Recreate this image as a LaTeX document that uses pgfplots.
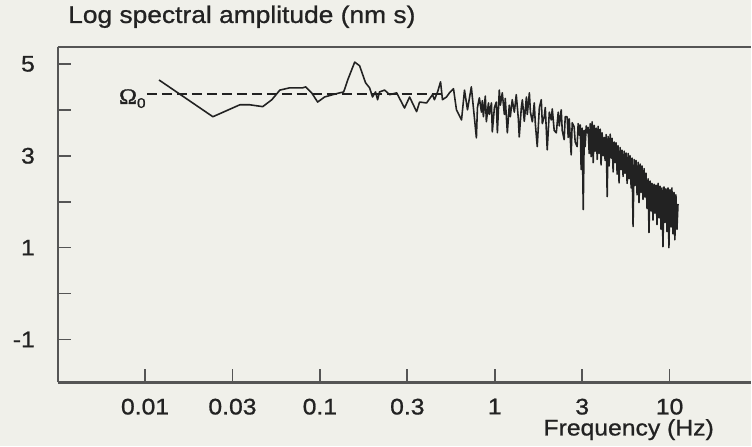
\documentclass[border=0pt]{standalone}
\usepackage{pgfplots}
\pgfplotsset{compat=1.18}
\usepackage{fontspec}
\setmainfont{Liberation Sans}[FakeStretch=1.1, FakeBold=0.9]
\newfontfamily\omegafont{Liberation Serif}[FakeStretch=1.1, FakeBold=1.5]
\usetikzlibrary{backgrounds}
\definecolor{bg}{HTML}{F0F0EA}
\definecolor{ink}{HTML}{222222}
\definecolor{axgray}{HTML}{555555}

\begin{document}
\begin{tikzpicture}
\begin{axis}[
  name=ax, scale only axis, width=416.6pt, height=201.6pt,
  xmin=-2.5, xmax=1.465, ymin=-1.935, ymax=5.37,
  axis x line=box, axis y line=left,
  axis line style={-, axgray, line width=1.3pt},
  every outer x axis line/.append style={-},
  every outer y axis line/.append style={-},
  xtick={-2,-1.5,-1,-0.5,0,0.5,1},
  xticklabels={0.01,0.03,0.1,0.3,1,3,10},
  ytick={-1,0,1,2,3,4,5},
  yticklabels={-1,,1,,3,,5},
  xtick pos=left, ytick pos=left,
  tick align=inside, major tick length=7.8pt,
  tick style={axgray, line width=1pt},
  tick label style={font=\fontsize{13.5}{16}\selectfont, text=ink, inner sep=0pt},
  xticklabel style={anchor=north, yshift=-9.6pt},
  yticklabel style={anchor=east, xshift=-13.5pt},
  title={Log spectral amplitude (nm s)},
  title style={at={(axis description cs:0.0148,1.0417)}, anchor=base west,
    inner sep=0pt, font=\fontsize{14.4}{17}\selectfont, text=ink},
  xlabel={Frequency (Hz)},
  xlabel style={at={(axis description cs:0.7004,-0.158)}, anchor=base west,
    inner sep=0pt, font=\fontsize{13.5}{16}\selectfont, text=ink},
]
% reference level Omega_0
\addplot[ink, line width=1.4pt, dash pattern=on 6pt off 3pt] coordinates {(-1.989,4.35) (-0.30,4.35)};
\node[anchor=base east, inner sep=0pt, text=ink] at (axis cs:-1.995,4.13)
  {\omegafont\fontsize{13.2}{15}\selectfont Ω\raisebox{-2.4pt}{\fontsize{8.4}{10}\selectfont\rmfamily 0}};

% spectrum, x = log10 of frequency in Hz
\addplot[ink, line width=0.95pt, line join=round] coordinates {
(-1.920,4.65) (-1.612,3.85) (-1.458,4.11) (-1.401,4.11) (-1.327,4.07) (-1.275,4.22)
(-1.229,4.43) (-1.172,4.48) (-1.098,4.48) (-1.081,4.50) (-1.047,4.37) (-1.013,4.17)
(-0.973,4.28) (-0.927,4.33) (-0.887,4.37) (-0.864,4.39) (-0.841,4.65) (-0.801,5.04)
(-0.773,4.96) (-0.739,4.59) (-0.716,4.48) (-0.699,4.28) (-0.682,4.39) (-0.670,4.22)
(-0.659,4.39) (-0.630,4.43) (-0.601,4.33) (-0.561,4.37) (-0.516,4.04) (-0.487,4.28)
(-0.447,3.96) (-0.430,4.17) (-0.390,4.15) (-0.356,4.33) (-0.345,4.22) (-0.327,4.39)
(-0.310,4.61) (-0.299,4.22) (-0.276,4.28) (-0.259,4.37) (-0.236,4.46) (-0.219,4.00)
(-0.190,3.78) (-0.173,4.43) (-0.156,4.00) (-0.134,4.50) (-0.105,3.39) (-0.099,4.05)
(-0.088,4.26) (-0.076,3.95) (-0.071,4.20) (-0.065,3.85) (-0.054,4.30) (-0.048,3.74)
(-0.036,4.15) (-0.031,3.90) (-0.019,4.15) (-0.014,3.52) (-0.002,4.05) (0.009,4.17)
(0.015,3.50) (0.026,4.43) (0.032,4.10) (0.043,4.37) (0.055,3.90) (0.060,4.25)
(0.072,3.50) (0.083,4.10) (0.089,3.85) (0.100,4.22) (0.112,3.95) (0.123,4.33)
(0.135,3.80) (0.140,3.41) (0.152,4.05) (0.158,4.22) (0.169,3.75) (0.181,4.28)
(0.186,3.90) (0.198,4.37) (0.204,3.95) (0.215,3.74) (0.226,4.15) (0.232,3.70)
(0.243,3.20) (0.255,4.05) (0.266,4.22) (0.272,3.70) (0.283,3.85) (0.289,4.05)
(0.300,3.13) (0.312,3.95) (0.323,3.78) (0.329,4.02) (0.340,3.55) (0.352,3.50)
(0.363,3.95) (0.369,3.65) (0.380,4.00) (0.386,3.55) (0.397,3.35) (0.403,3.85)
(0.414,3.85) (0.420,3.40) (0.426,3.80) (0.437,3.02) (0.443,3.72) (0.454,3.63)
(0.460,3.30) (0.471,3.20) (0.477,3.70) (0.483,3.45) (0.489,3.67) (0.494,2.70)
(0.500,3.60) (0.506,1.83) (0.512,3.55) (0.517,3.20) (0.523,3.65) (0.529,3.50)
(0.534,3.62) (0.540,3.05) (0.546,3.70) (0.551,2.98) (0.557,3.74) (0.563,2.85)
(0.569,3.66) (0.574,3.10) (0.580,3.60) (0.586,2.92) (0.591,3.64) (0.597,3.05)
(0.603,3.58) (0.608,2.80) (0.614,3.50) (0.620,3.00) (0.626,3.40) (0.631,2.90)
(0.637,3.46) (0.643,2.11) (0.648,3.42) (0.654,2.78) (0.660,3.47) (0.666,2.95)
(0.671,3.38) (0.677,2.65) (0.683,3.30) (0.688,2.85) (0.694,3.28) (0.700,2.60)
(0.705,3.22) (0.711,2.41) (0.717,3.18) (0.723,2.70) (0.728,3.12) (0.734,2.55)
(0.740,3.10) (0.745,2.62) (0.751,3.06) (0.757,2.40) (0.763,3.05) (0.768,2.50)
(0.774,3.00) (0.780,2.30) (0.785,2.95) (0.791,1.46) (0.797,2.92) (0.802,2.35)
(0.808,2.90) (0.814,2.15) (0.820,2.86) (0.825,1.98) (0.831,2.82) (0.837,2.20)
(0.842,2.78) (0.848,2.05) (0.854,2.72) (0.859,2.10) (0.865,2.62) (0.871,1.85)
(0.877,2.50) (0.882,1.33) (0.888,2.45) (0.894,1.80) (0.899,2.40) (0.905,1.60)
(0.911,2.38) (0.916,1.75) (0.922,2.36) (0.928,1.50) (0.934,2.40) (0.939,1.65)
(0.945,2.34) (0.951,1.40) (0.956,2.30) (0.962,1.02) (0.968,2.32) (0.973,1.55)
(0.979,2.28) (0.985,1.35) (0.991,2.30) (0.996,1.00) (1.002,2.26) (1.008,1.45)
(1.013,2.30) (1.019,1.30) (1.025,2.20) (1.030,1.17) (1.036,2.15) (1.042,1.40)
(1.048,1.95)
};
\end{axis}
\begin{scope}[on background layer]
\fill[bg] ([shift={(-34.62pt,-38.4pt)}]ax.south west) rectangle ([shift={(0pt,28.2pt)}]ax.north east);
\end{scope}
\end{tikzpicture}
\end{document}
